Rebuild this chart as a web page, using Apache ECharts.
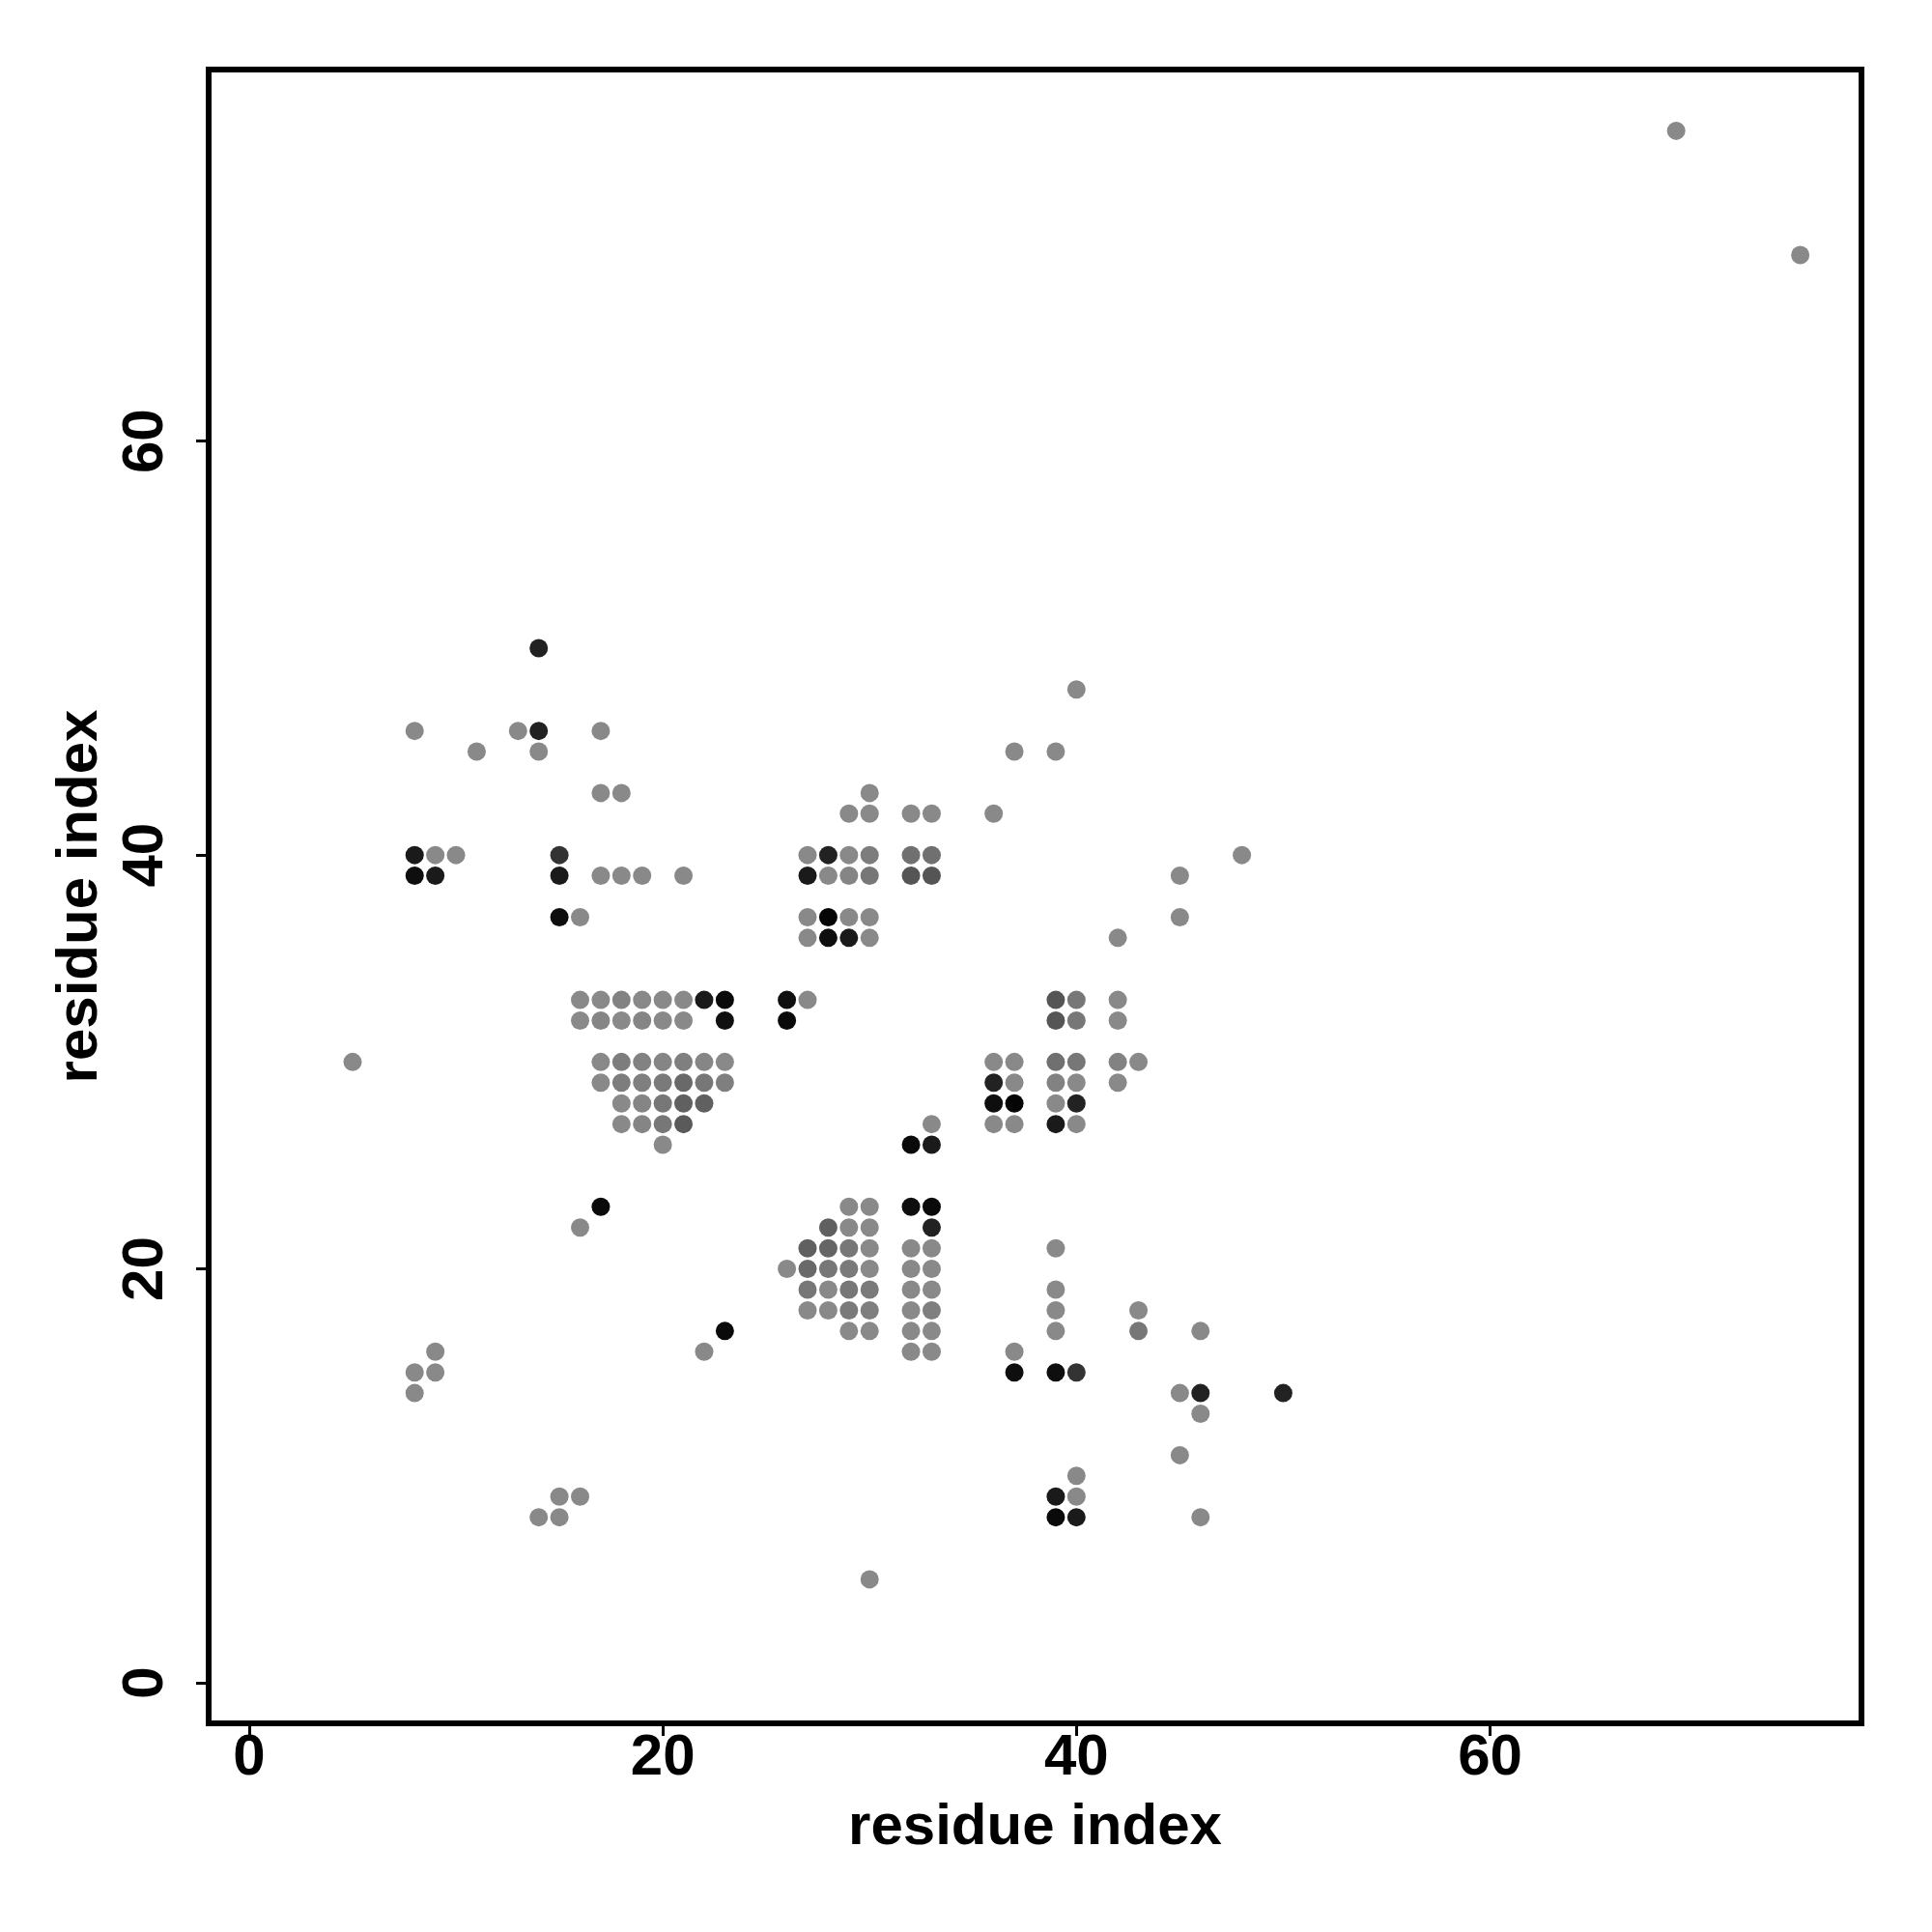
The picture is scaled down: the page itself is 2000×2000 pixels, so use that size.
<!DOCTYPE html>
<html>
<head>
<meta charset="utf-8">
<script src="https://cdn.jsdelivr.net/npm/echarts@6/dist/echarts.min.js"></script>
<style>
html,body{margin:0;padding:0;background:#fff;}
#chart{width:2000px;height:2000px;}
</style>
</head>
<body>
<div id="chart"></div>
<script>
// Axis tick values
const tickValues = [0, 20, 40, 60];
const axisTitleX = 'residue index';
const axisTitleY = 'residue index';

// Contacts: [residue i, residue j, contact strength 0..1]
const contactsUpperLeft = [
  [14,50,0.75],
  [8,46,0],[13,46,0],[14,46,0.75],[17,46,0],
  [11,45,0],[14,45,0],
  [17,43,0],[18,43,0],
  [8,40,0.81],[9,40,0],[10,40,0],[15,40,0.63],
  [8,39,0.9],[9,39,0.81],[15,39,0.81],[17,39,0],[18,39,0],[19,39,0],[21,39,0],
  [15,37,0.9],[16,37,0]
];

const contactsBlockA = [
  [16,33,0],[17,33,0],[18,33,0.05],[19,33,0],[20,33,0],[21,33,0],[22,33,0.81],[23,33,0.93],
  [16,32,0],[17,32,0.03],[18,32,0],[19,32,0.03],[20,32,0],[21,32,0],[23,32,0.88],
  [17,30,0],[18,30,0.09],[19,30,0.05],[20,30,0.03],[21,30,0.07],[22,30,0.02],[23,30,0],
  [17,29,0],[18,29,0.09],[19,29,0.07],[20,29,0.11],[21,29,0.23],[22,29,0.13],[23,29,0.07],
  [18,28,0],[19,28,0.03],[20,28,0.13],[21,28,0.3],[22,28,0.3],
  [18,27,0],[19,27,0.03],[20,27,0.13],[21,27,0.34],
  [20,26,0]
];

const contactsBlockB = [
  [30,43,0],
  [29,42,0],[30,42,0],[32,42,0],[33,42,0],[36,42,0],
  [27,40,0],[28,40,0.75],[29,40,0],[30,40,0.09],[32,40,0.18],[33,40,0.18],
  [27,39,0.81],[28,39,0],[29,39,0.03],[30,39,0.13],[32,39,0.38],[33,39,0.38],
  [27,37,0],[28,37,0.96],[29,37,0],[30,37,0],
  [27,36,0],[28,36,0.9],[29,36,0.81],[30,36,0],
  [26,33,0.88],[27,33,0],[26,32,0.93]
];

const contactsBlockC = [
  [40,48,0],[37,45,0],[39,45,0],[48,40,0],[45,39,0],[45,37,0],[42,36,0],
  [39,33,0.38],[40,33,0.13],[42,33,0],
  [39,32,0.38],[40,32,0.13],[42,32,0],
  [36,30,0],[37,30,0],[39,30,0.18],[40,30,0.13],[42,30,0.05],[43,30,0],
  [36,29,0.75],[37,29,0],[39,29,0.05],[40,29,0],[42,29,0],
  [36,28,0.9],[37,28,0.96],[39,28,0],[40,28,0.75],
  [36,27,0],[37,27,0],[39,27,0.81],[40,27,0],
  [33,27,0],[32,26,0.93],[33,26,0.81]
];

const contactsBlockD = [
  [29,23,0],[30,23,0],[32,23,0.9],[33,23,0.93],
  [28,22,0.3],[29,22,0],[30,22,0],[33,22,0.75],
  [27,21,0.3],[28,21,0.26],[29,21,0.13],[30,21,0],[32,21,0],[33,21,0],
  [26,20,0],[27,20,0.23],[28,20,0.13],[29,20,0.11],[30,20,0],[32,20,0],[33,20,0],
  [27,19,0.13],[28,19,0],[29,19,0.13],[30,19,0.11],[32,19,0],[33,19,0],
  [27,18,0],[28,18,0],[29,18,0.11],[30,18,0.07],[32,18,0],[33,18,0.07],
  [29,17,0],[30,17,0],[32,17,0],[33,17,0],
  [32,16,0],[33,16,0]
];

const contactsLower = [
  [17,23,0.93],[16,22,0],[23,17,0.93],[22,16,0],
  [9,16,0],[8,15,0],[9,15,0],[8,14,0],
  [15,9,0],[16,9,0],[14,8,0],[15,8,0],
  [30,5,0],[5,30,0],
  [39,21,0],[39,19,0],[39,18,0],[43,18,0],[39,17,0],[43,17,0.13],[46,17,0],
  [37,16,0],[37,15,0.9],[39,15,0.9],[40,15,0.63],
  [45,14,0],[46,14,0.75],[50,14,0.75],[46,13,0],
  [45,11,0],[40,10,0],[39,9,0.81],[40,9,0],[39,8,0.93],[40,8,0.81],[46,8,0]
];

const contactsFar = [[69,75,0],[75,69,0]];

const allContacts = [].concat(contactsUpperLeft, contactsBlockA, contactsBlockB,
  contactsBlockC, contactsBlockD, contactsLower, contactsFar);

const FONT = 'Liberation Sans, Arial, Helvetica, sans-serif';
const labelStyle = {fontFamily: FONT, fontWeight: 'bold', fontSize: 60, color: '#000'};
const titleStyle = {fontFamily: FONT, fontWeight: 'bold', fontSize: 60, color: '#000'};

const chart = echarts.init(document.getElementById('chart'), null, {renderer: 'canvas'});
chart.setOption({
  animation: false,
  backgroundColor: '#fff',
  grid: {
    left: 216, top: 72, width: 1711, height: 1712,
    show: true, borderColor: '#000', borderWidth: 6, backgroundColor: 'transparent'
  },
  visualMap: {
    show: false, type: 'continuous', dimension: 2, min: 0, max: 1,
    inRange: {color: ['#898989', '#000000']}
  },
  xAxis: {
    type: 'value', min: -1.96, max: 77.96,
    name: axisTitleX, nameLocation: 'middle', nameGap: 78,
    nameTextStyle: titleStyle,
    axisLine: {show: false, onZero: false},
    axisTick: {show: true, customValues: tickValues, length: 13, lineStyle: {width: 3, color: '#000'}},
    axisLabel: Object.assign({customValues: tickValues, margin: 6}, labelStyle),
    splitLine: {show: false}
  },
  yAxis: {
    type: 'value', min: -1.96, max: 77.96,
    name: axisTitleY, nameLocation: 'middle', nameGap: 100,
    nameTextStyle: titleStyle,
    axisLine: {show: false, onZero: false},
    axisTick: {show: true, customValues: tickValues, length: 13, lineStyle: {width: 3, color: '#000'}},
    axisLabel: Object.assign({customValues: tickValues, margin: 35, rotate: 90}, labelStyle),
    splitLine: {show: false}
  },
  series: [{
    type: 'scatter',
    symbol: 'circle',
    symbolSize: 19,
    data: allContacts,
    itemStyle: {opacity: 1}
  }]
});
</script>
</body>
</html>
